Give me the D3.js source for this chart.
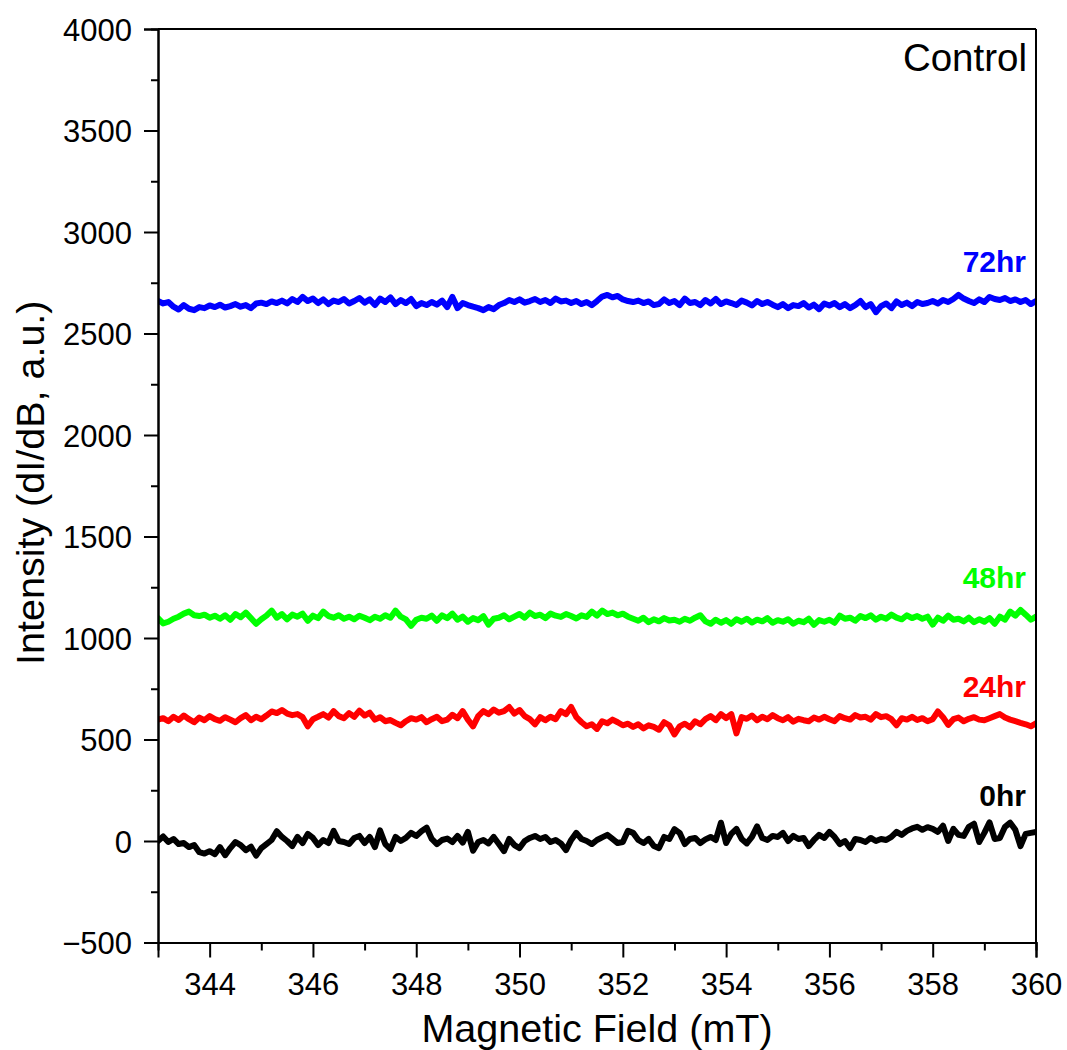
<!DOCTYPE html>
<html>
<head>
<meta charset="utf-8">
<script src="https://cdn.jsdelivr.net/npm/d3@7"></script>
<style>
  html, body { margin: 0; padding: 0; background: #fff; }
  svg { display: block; }
  text { font-family: "Liberation Sans", Arial, sans-serif; }
</style>
</head>
<body>
<script>
// ---- Data ----
const fieldStart = 343.0;   // mT
const fieldStep = 0.1;      // mT

const series0hr = [
  0, 22, -5, 10, -15, -10, -30, -20, -55, -62,
  -50, -65, -30, -70, -35, -5, -20, -45, -28, -72,
  -35, -15, 5, 48, 20, 0, -25, 20, -10, 35,
  15, -20, 5, -10, 50, 0, -5, -15, 15, 25,
  -10, 20, -30, 52, -15, -40, 20, 0, 15, 40,
  25, 48, 66, 10, -15, 5, 12, -5, 25, -8,
  45, -48, -5, 5, -12, 20, -15, -50, 10, -20,
  -35, 0, 15, 25, 10, 20, -5, 5, -12, -45,
  5, 40, 10, 0, -15, 5, 18, 30, 10, -10,
  -5, 50, 40, 5, -10, 10, -25, -35, 20, 10,
  58, 40, -15, 10, 15, -10, 8, 20, 5, 90,
  -10, 35, 60, 10, -12, 20, 72, 15, 5, 25,
  20, 40, 0, 25, 10, 15, -25, 5, 30, 15,
  45, 20, -15, 0, -35, 10, 5, -5, 15, 0,
  10, 5, 20, 45, 30, 50, 62, 70, 55, 68,
  60, 45, 75, 0, 60, 30, 25, 70, 85, -5,
  40, 92, 10, 15, 70, 90, 55, -25, 35, 40,
  45
];

const series24hr = [
  598, 605, 590, 612, 596, 618, 600, 585, 608, 595,
  615, 600, 592, 610, 598, 585, 605, 620, 595, 612,
  600, 618, 638, 630, 645, 628, 620, 625, 610, 565,
  600, 612, 625, 608, 640, 615, 605, 630, 612, 642,
  618, 632, 598, 610, 590, 596, 582, 570, 590, 605,
  598, 610, 585, 600, 612, 590, 598, 622, 605, 640,
  598, 565, 615, 640, 625, 648, 632, 640, 660, 628,
  645, 615, 600, 575, 610, 595, 612, 600, 640, 625,
  660, 610, 585, 565, 575, 552, 590, 580, 598, 585,
  570, 578, 562, 575, 555, 570, 562, 548, 585, 570,
  525, 565, 578, 560, 590, 575, 600, 615, 595, 625,
  605, 625, 530, 610, 602, 618, 595, 612, 600, 620,
  605, 595, 610, 588, 602, 595, 590, 608, 598, 612,
  600, 590, 615, 605, 598, 620, 608, 612, 598, 625,
  610, 615, 600, 570, 605, 598, 612, 596, 605, 590,
  600, 638, 610, 572, 600, 608, 590, 602, 610, 598,
  595, 605, 615, 625, 608, 598, 590, 582, 575, 565,
  580
];

const series48hr = [
  1098, 1072, 1080, 1095, 1105, 1120, 1130, 1112, 1108, 1115,
  1100, 1110, 1095, 1112, 1090, 1118, 1102, 1125, 1098, 1070,
  1092, 1110, 1135, 1100, 1118, 1092, 1115, 1105, 1120, 1085,
  1110, 1098, 1130, 1108, 1100, 1112, 1095, 1105, 1092, 1110,
  1100, 1088, 1105, 1095, 1112, 1100, 1135, 1105, 1092, 1060,
  1090, 1100, 1095, 1110, 1085, 1112, 1098, 1120, 1090, 1105,
  1080, 1098, 1088, 1108, 1066, 1095, 1100, 1112, 1092, 1105,
  1118, 1100, 1125, 1108, 1115, 1098, 1120, 1110, 1104, 1118,
  1108, 1096, 1112, 1104, 1130, 1110, 1135, 1118, 1125, 1112,
  1120, 1105, 1095, 1085, 1100, 1078, 1092, 1082, 1098, 1086,
  1090, 1080, 1095, 1085, 1100, 1112, 1082, 1070, 1090, 1075,
  1088, 1070, 1092, 1080, 1095, 1076, 1090, 1082, 1098, 1075,
  1088, 1080, 1092, 1070, 1085, 1078, 1095, 1065, 1088, 1080,
  1090, 1075, 1110, 1095, 1100, 1085, 1108, 1098, 1112, 1090,
  1105, 1095, 1115, 1100, 1092, 1112, 1098, 1108, 1095, 1105,
  1066, 1100, 1085, 1110, 1090, 1095, 1082, 1100, 1078, 1092,
  1080, 1098, 1070, 1105, 1090, 1130, 1110, 1138, 1115, 1090,
  1105
];

const series72hr = [
  2660, 2648, 2655, 2632, 2618, 2640, 2622, 2615, 2630, 2625,
  2638, 2630, 2642, 2628, 2635, 2645, 2632, 2640, 2625, 2648,
  2652, 2645, 2658, 2650, 2662, 2648, 2670, 2655, 2680, 2660,
  2672, 2650, 2668, 2645, 2662, 2655, 2670, 2648, 2660, 2675,
  2652, 2668, 2640, 2672, 2655, 2678, 2645, 2665, 2650, 2670,
  2635, 2650, 2640, 2655, 2642, 2662, 2630, 2680, 2625, 2650,
  2640, 2632, 2625, 2615, 2630, 2620, 2640, 2650, 2665, 2655,
  2668, 2652, 2660, 2670, 2655, 2665, 2650, 2672, 2658, 2662,
  2650, 2660, 2645, 2655, 2640, 2660, 2682, 2690, 2678, 2685,
  2668, 2660, 2655, 2662, 2650, 2658, 2640, 2645, 2668, 2650,
  2660, 2640, 2672, 2650, 2655, 2640, 2665, 2648, 2670, 2645,
  2658, 2650, 2640, 2662, 2652, 2638, 2660, 2645, 2655, 2642,
  2630, 2645, 2625, 2640, 2635, 2650, 2628, 2642, 2620, 2648,
  2638, 2650, 2630, 2645, 2625, 2640, 2660, 2630, 2645, 2605,
  2635, 2648, 2625, 2658, 2640, 2652, 2635, 2655, 2645, 2650,
  2660, 2648, 2665, 2655, 2670, 2690, 2672, 2660, 2650, 2668,
  2655, 2680, 2670, 2665, 2675, 2660, 2668, 2655, 2665, 2645,
  2660
];

const seriesNames = ["0hr", "24hr", "48hr", "72hr"];
const seriesColors = ["#000000", "#ff0000", "#00ff00", "#0000ff"];
const seriesValues = [series0hr, series24hr, series48hr, series72hr];

const xTicks = [344, 346, 348, 350, 352, 354, 356, 358, 360];
const xMinorTicks = [345, 347, 349, 351, 353, 355, 357, 359];
const yTicks = [-500, 0, 500, 1000, 1500, 2000, 2500, 3000, 3500, 4000];
const yMinorTicks = [-250, 250, 750, 1250, 1750, 2250, 2750, 3250, 3750];

const xTitle = "Magnetic Field (mT)";
const yTitle = "Intensity (dI/dB, a.u.)";
const panelLabel = "Control";

// ---- Layout ----
const W = 1067, H = 1050;
const L = 158, R = 1036, T = 29, B = 942.5;

const svg = d3.select("body").append("svg")
  .attr("width", W).attr("height", H);

const x = d3.scaleLinear().domain([343, 360]).range([L, R]);
const y = d3.scaleLinear().domain([-500, 4000]).range([B, T]);

// Data lines
const line = d3.line()
  .x((d, i) => x(fieldStart + i * fieldStep))
  .y(d => y(d))
  .curve(d3.curveLinear);

const plot = svg.append("g");
plot.append("clipPath").attr("id", "clip")
  .append("rect").attr("x", L).attr("y", T).attr("width", R - L).attr("height", B - T);

seriesValues.forEach((vals, k) => {
  plot.append("path")
    .datum(vals)
    .attr("clip-path", "url(#clip)")
    .attr("fill", "none")
    .attr("stroke", seriesColors[k])
    .attr("stroke-width", 6)
    .attr("stroke-linejoin", "round")
    .attr("stroke-linecap", "round")
    .attr("d", line);
});

// Frame (top/right)
svg.append("line").attr("x1", L).attr("x2", R).attr("y1", T).attr("y2", T)
  .attr("stroke", "#000").attr("stroke-width", 2);
svg.append("line").attr("x1", R).attr("x2", R).attr("y1", T).attr("y2", B)
  .attr("stroke", "#000").attr("stroke-width", 2);

// Axes
const tickFont = 31;
const xAxis = d3.axisBottom(x).tickValues(xTicks).tickSize(15).tickPadding(9)
  .tickFormat(d3.format("d"));
const gx = svg.append("g").attr("transform", `translate(0,${B})`).call(xAxis);
const xMinor = d3.axisBottom(x).tickValues(xMinorTicks).tickSize(8).tickFormat("");
const gxm = svg.append("g").attr("transform", `translate(0,${B})`).call(xMinor);

const yAxis = d3.axisLeft(y).tickValues(yTicks).tickSize(14).tickPadding(12)
  .tickFormat(d => d < 0 ? "\u2212" + Math.abs(d) : String(d));
const gy = svg.append("g").attr("transform", `translate(${L},0)`).call(yAxis);
const yMinor = d3.axisLeft(y).tickValues(yMinorTicks).tickSize(7).tickFormat("");
const gym = svg.append("g").attr("transform", `translate(${L},0)`).call(yMinor);

[gx, gxm, gy, gym].forEach(g => {
  g.select(".domain").attr("stroke", "#000").attr("stroke-width", 2);
  g.selectAll(".tick line").attr("stroke", "#000").attr("stroke-width", 2);
  g.selectAll(".tick text")
    .attr("font-family", '"Liberation Sans", Arial, sans-serif')
    .attr("font-size", tickFont).attr("fill", "#000");
});
gx.selectAll(".tick text").attr("dy", "0.92em");
gy.selectAll(".tick text").attr("dy", "0.36em");

// Axis titles
svg.append("text")
  .attr("x", (L + R) / 2).attr("y", 1042)
  .attr("text-anchor", "middle")
  .attr("font-size", 39.5).attr("fill", "#000")
  .text(xTitle);

svg.append("text")
  .attr("transform", `translate(44,${(T + B) / 2 - 3}) rotate(-90)`)
  .attr("text-anchor", "middle")
  .attr("font-size", 39.5).attr("fill", "#000")
  .text(yTitle);

// Panel label
svg.append("text")
  .attr("x", 1027).attr("y", 71)
  .attr("text-anchor", "end")
  .attr("font-size", 38.5).attr("fill", "#000")
  .text(panelLabel);

// Series labels
const labelY = [806, 697, 588, 272];
seriesNames.forEach((name, k) => {
  svg.append("text")
    .attr("x", 1026).attr("y", labelY[k])
    .attr("text-anchor", "end")
    .attr("font-size", 30).attr("font-weight", "bold")
    .attr("fill", seriesColors[k])
    .text(name);
});
</script>
</body>
</html>
